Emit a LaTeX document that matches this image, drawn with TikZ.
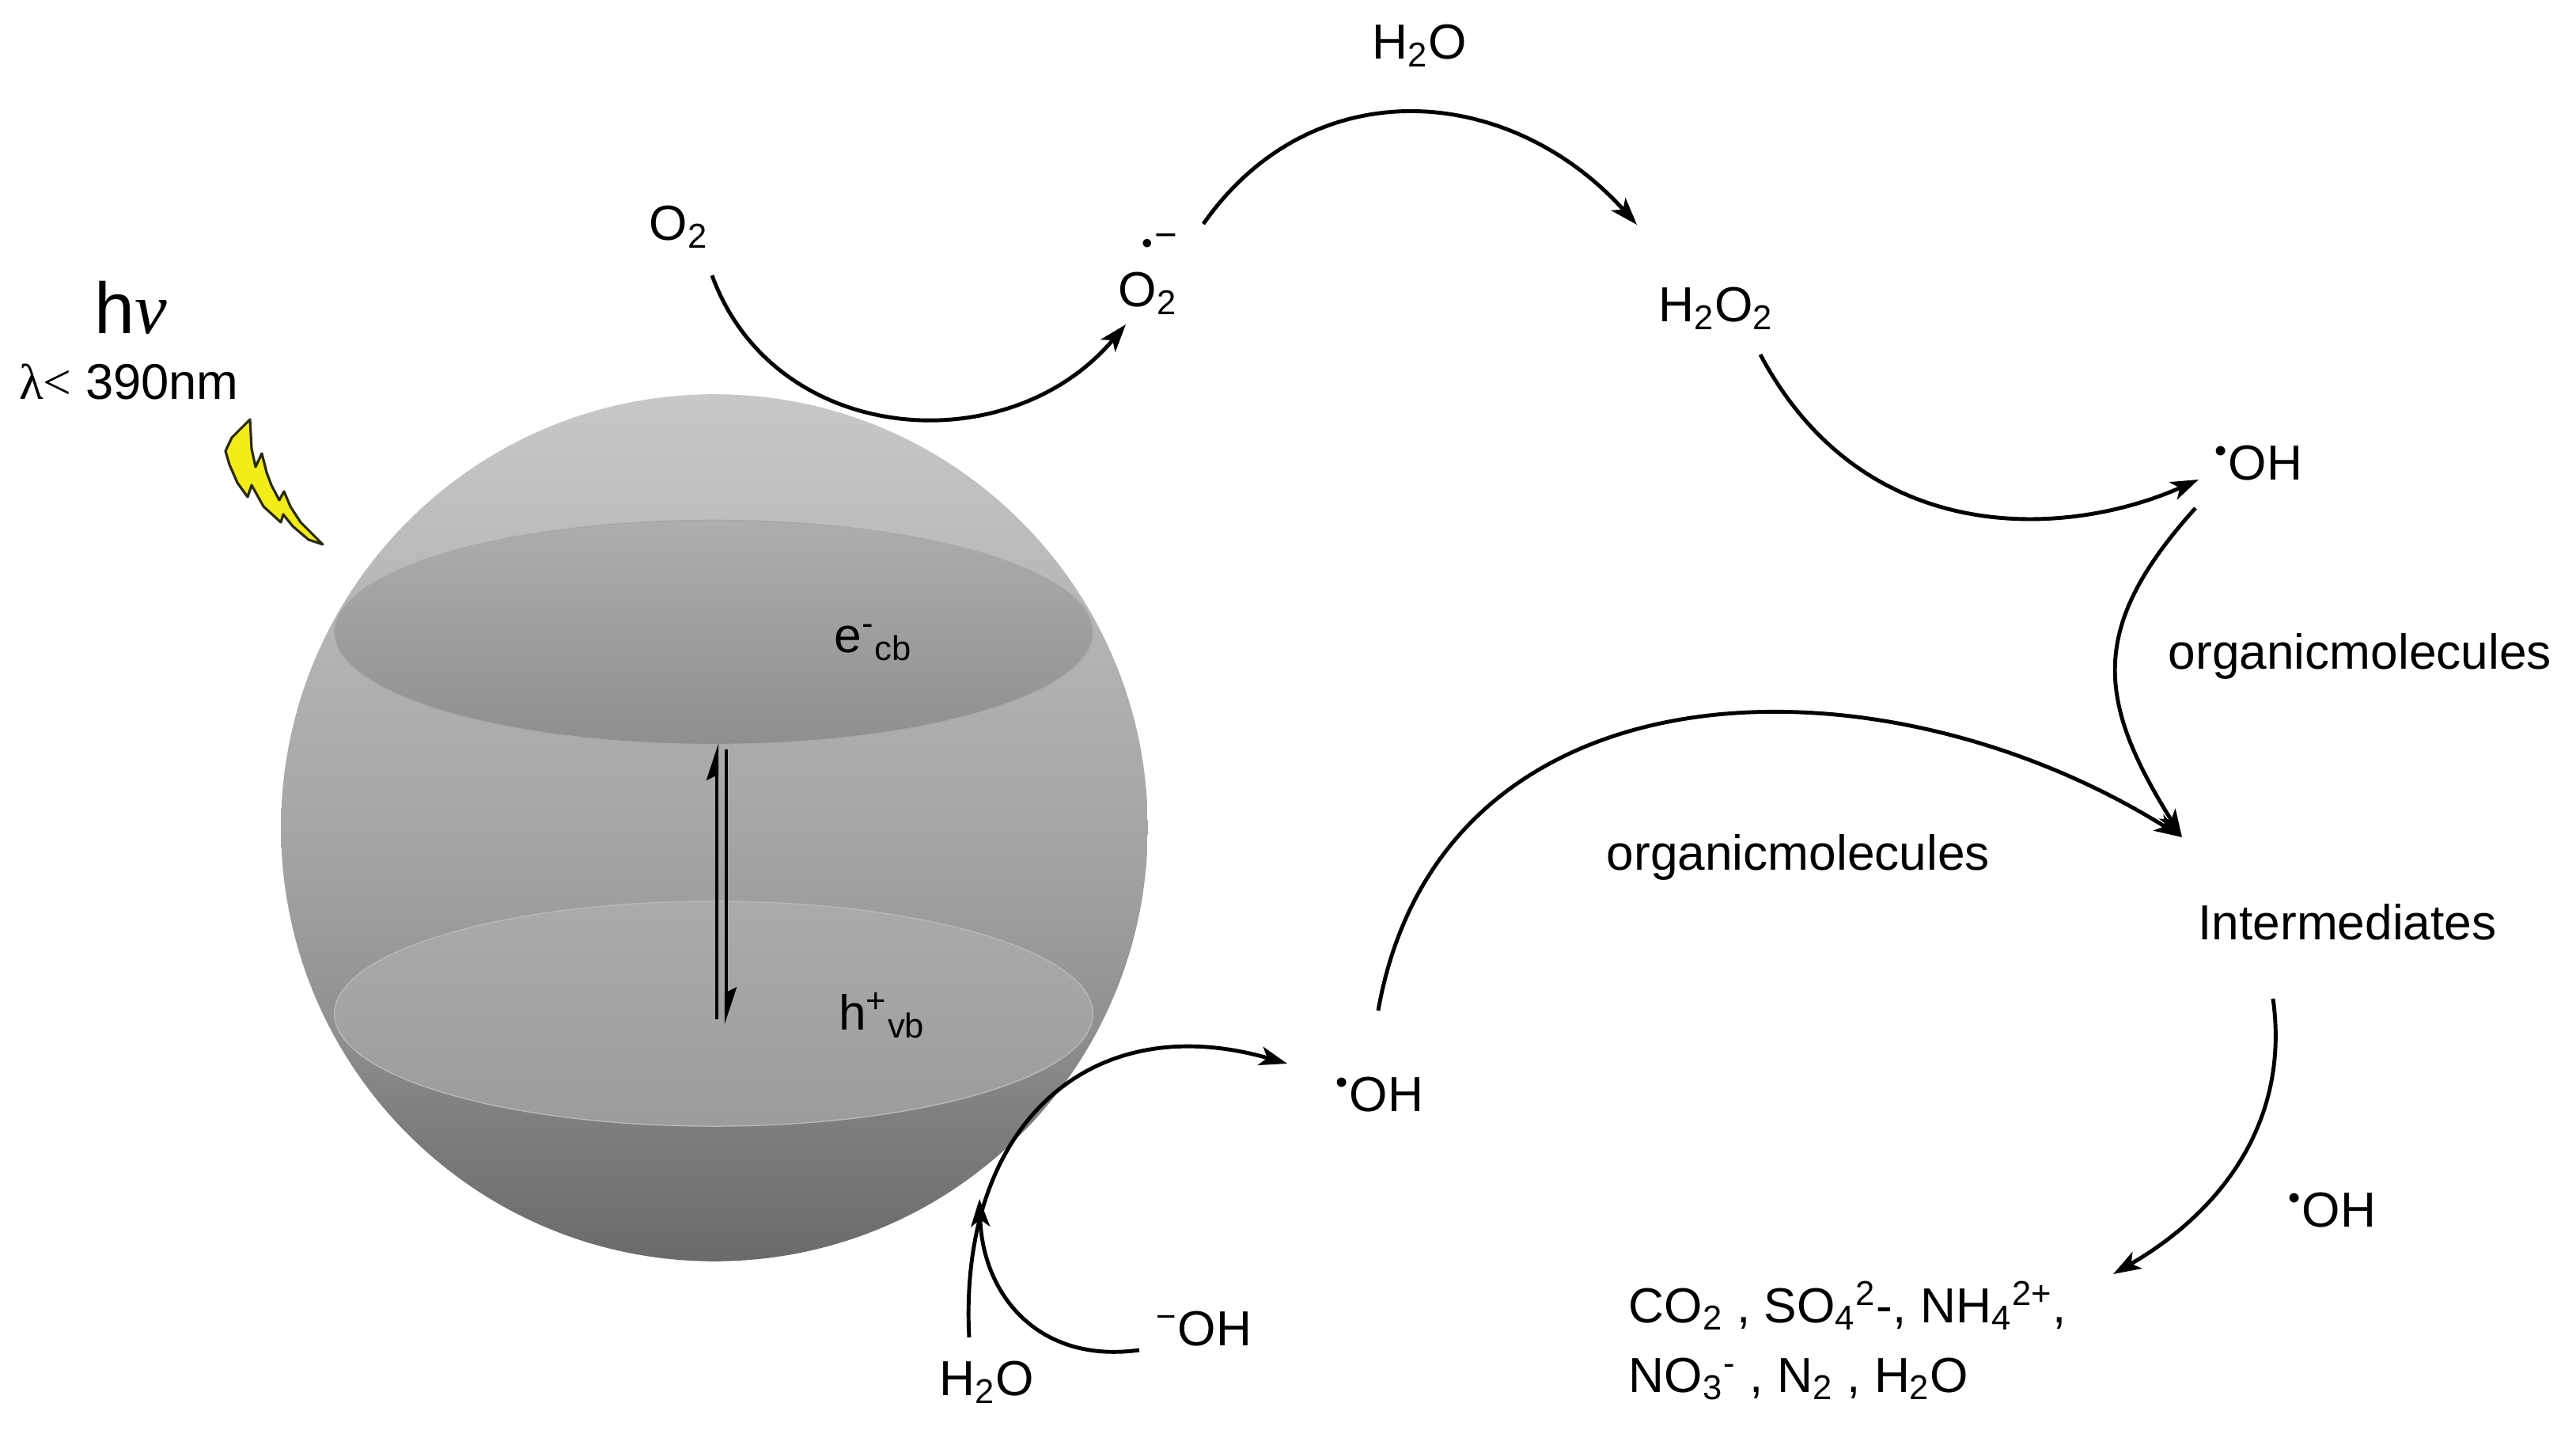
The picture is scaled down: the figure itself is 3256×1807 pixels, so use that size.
\documentclass[tikz,border=0pt]{standalone}
\usepackage{fontspec}
\setmainfont{Liberation Sans}
\newfontfamily\greekfont{Liberation Serif}
\usetikzlibrary{arrows.meta,calc,shapes.geometric}
\definecolor{boltfill}{HTML}{F4EC16}
\definecolor{boltline}{HTML}{2A2A14}
\newcommand{\rad}{\textsuperscript{•}}
\newcommand{\dn}[1]{\textsubscript{#1}}
\newcommand{\up}[1]{\textsuperscript{#1}}

\pgfdeclareverticalshading{spheregrad}{100bp}{
  rgb(0bp)=(0.416,0.416,0.416);
  rgb(25bp)=(0.416,0.416,0.416);
  rgb(33bp)=(0.494,0.494,0.494);
  rgb(38.5bp)=(0.565,0.565,0.565);
  rgb(45.5bp)=(0.62,0.62,0.62);
  rgb(50bp)=(0.651,0.651,0.651);
  rgb(57bp)=(0.682,0.682,0.682);
  rgb(75bp)=(0.784,0.784,0.784);
  rgb(100bp)=(0.784,0.784,0.784)}

\tikzset{
  arc/.style={line width=1.4pt,-{Stealth[length=3.5mm,width=2.4mm,inset=0.9mm]}},
  updown/.style={line width=1.2pt,-{Stealth[harpoon,length=4mm,width=2.6mm,inset=0.6mm]}}
}

\begin{document}
\begin{tikzpicture}[x=0.01cm, y=0.01cm]
            \tikzstyle{chem}=[inner sep=0pt,font=\fontsize{17.7}{25}\selectfont]
            \useasboundingbox (0,0) rectangle (3256,-1807);

            \node[circle,inner sep=0pt,minimum size=10.95cm,shading=spheregrad] (sphere) at (903,-1046) {};
            \node[ellipse,inner sep=0pt,minimum width=9.58cm,minimum height=2.83cm,shade,top color=black!32,bottom color=black!44,draw=black!34] (cb) at (902,-799) {};
            \node[ellipse,inner sep=0pt,minimum width=9.58cm,minimum height=2.84cm,shade,top color=black!33,bottom color=black!39,draw=black!28] (vb) at (902,-1281) {};

            \draw[boltline,fill=boltfill,line width=0.9pt,line join=round] (316,-530) -- (318,-567) -- (323,-590) -- (331,-573) -- (337,-597) -- (343,-613) -- (353,-632) -- (359,-621) -- (367,-640) -- (380,-660) -- (408,-688) -- (390,-682) -- (370,-665) -- (358,-650) -- (355,-660) -- (333,-640) -- (318,-613) -- (313,-628) -- (300,-610) -- (290,-587) -- (285,-570) -- (293,-553) -- cycle;

            \node[inner sep=0pt,font=\fontsize{26}{30}\selectfont] (hv) at (165,-389) {h{\greekfont\itshape ν}};
            \node[inner sep=0pt,font=\fontsize{18}{22}\selectfont] (lambda) at (163,-483) {{\greekfont λ<} 390nm};

            \node[chem] (O2a) at (858,-287) {O\dn{2}};
            \node[chem] (O2b) at (1451,-371) {O\dn{2}};
            \node[inner sep=0pt] (O2rad) at (1466,-308) {{\fontsize{11}{11}\selectfont •}\kern0.5pt\raisebox{0.35ex}{\fontsize{14}{14}\selectfont −}};
            \node[chem] (H2Oa) at (1794,-58) {H\dn{2}O};
            \node[chem] (H2O2) at (2169,-390) {H\dn{2}O\dn{2}};
            \node[chem] (OHa) at (2855,-585) {\rad OH};
            \node[chem] (orgA) at (2983,-829) {organicmolecules};
            \node[chem] (orgB) at (2273,-1083) {organicmolecules};
            \node[chem] (inter) at (2967,-1165) {Intermediates};
            \node[chem] (OHb) at (2948,-1529) {\rad OH};
            \node[chem,align=left,anchor=west] (prod) at (2058,-1694) {CO\dn{2} , SO\dn{4}\up{2}-, NH\dn{4}\up{2+},\\NO\dn{3}\up{-} , N\dn{2} , H\dn{2}O};
            \node[chem] (OHc) at (1744,-1383) {\rad OH};
            \node[chem] (OHd) at (1522,-1679) {\up{−}OH};
            \node[chem] (H2Ob) at (1247,-1747) {H\dn{2}O};
            \node[chem] (ecb) at (1104,-812) {e\up{-}\dn{cb}};
            \node[chem] (hvb) at (1115,-1283) {h\up{+}\dn{vb}};

            \draw[arc] ($(O2a)+(42,-61)$) to[out=-70,in=-130,looseness=1.12] ($(O2b)+(-28,-39)$);
            \draw[arc] ($(O2b)+(70,88)$) to[out=55,in=132,looseness=1.12] ($(H2O2)+(-100,106)$);
            \draw[arc] ($(H2O2)+(56,-58)$) to[out=-62,in=204,out looseness=1.25,in looseness=0.8] ($(OHa)+(-76,-21)$);
            \draw[arc] ($(OHa)+(-80,-57)$) to[out=-132,in=122,looseness=1.25] ($(inter)+(-209,107)$);
            \draw[arc] ($(OHc)+(-2,106)$) to[out=80,in=148,looseness=1.12] ($(inter)+(-209,107)$);
            \draw[arc] ($(inter)+(-94,-97)$) to[out=-82,in=30,looseness=1.0] ($(prod.west)+(613,84)$);
            \draw[arc] ($(H2Ob)+(-22,57)$) to[out=93,in=164,looseness=1.27] ($(OHc)+(-117,39)$);
            \draw[arc] ($(OHd)+(-82,-27)$) to[out=188,in=-88,looseness=1.15] ($(H2Ob)+(-9,232)$);

            \draw[updown] ($(vb.north)+(4,-150)$) -- ($(cb.south)+(4,2)$);
            \draw[updown] ($(cb.south)+(16,-6)$) -- ($(vb.north)+(16,-156)$);
        \end{tikzpicture}
\end{document}
